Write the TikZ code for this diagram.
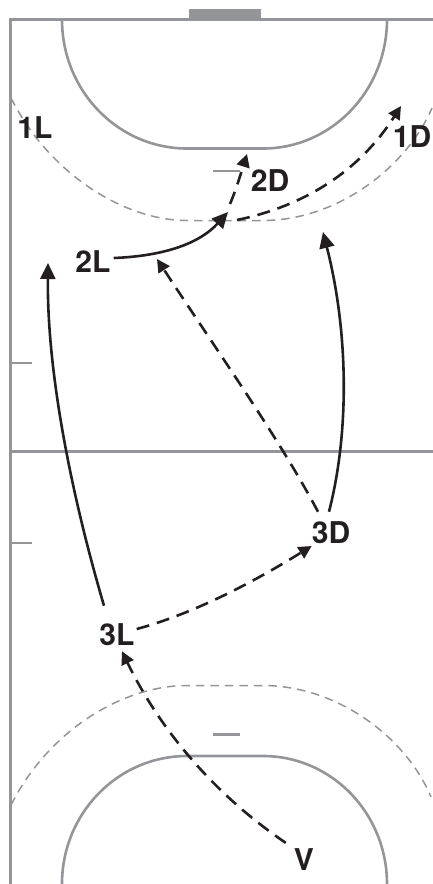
\documentclass[tikz,border=0pt]{standalone}
\usepackage{fontspec}
\setmainfont{TeX Gyre Heros}
\usetikzlibrary{arrows.meta,calc}
\definecolor{court}{HTML}{949599}
\definecolor{ink}{HTML}{231F20}
\tikzset{
  courtline/.style={draw=court,line width=3pt},
  zoneline/.style={draw=court,line width=1.5pt,dash pattern=on 8.5pt off 6pt},
  lbl/.style={text=ink,font=\fontsize{30}{30}\bfseries\selectfont,inner sep=1pt},
  run/.style={draw=ink,line width=2.6pt,-{Triangle[length=16pt,width=15pt]}},
  pass/.style={draw=ink,line width=2.6pt,dash pattern=on 13pt off 8pt,-{Triangle[length=13pt,width=13pt]}},
}
\begin{document}
\begin{tikzpicture}[x=1pt,y=-1pt]
\useasboundingbox (0,0) rectangle (433,884);
\clip (0,0) rectangle (433,884);
% court
\fill[court] (189,9) rectangle (260.5,18.5);
\draw[courtline] (433,19.5) -- (10.5,19.5) -- (10.5,884);
\draw[courtline] (10.5,451.5) -- (433,451.5);
\draw[court,line width=2.4pt] (10.5,363) -- (32,363);
\draw[court,line width=2.4pt] (10.5,543) -- (32,543);
\draw[court,line width=2.4pt] (213,171) -- (240,171);
\draw[court,line width=2.4pt] (213,734.5) -- (240,734.5);
% 6 m lines
\draw[courtline,line width=2.6pt] (62,19.5) arc[start angle=180,end angle=270,x radius=125pt,y radius=129pt] -- (263,148.5) arc[start angle=270,end angle=360,x radius=124pt,y radius=129pt];
\draw[courtline,line width=2.6pt] (62,884) arc[start angle=180,end angle=90,x radius=125pt,y radius=128pt] -- (263,756) arc[start angle=90,end angle=0,x radius=124pt,y radius=128pt];
% 9 m lines
\draw[zoneline] (11,98) .. controls (50,175) and (125,220.5) .. (187,220.5) -- (263,220.5) .. controls (335,220.5) and (405,170) .. (432,108);
\draw[zoneline] (11,805) .. controls (50,728) and (125,685.5) .. (187,685.5) -- (263,685.5) .. controls (335,685.5) and (405,735) .. (431,797);
% players
\node[lbl] (a1L) at (35,128) {1L};
\node[lbl] (a1D) at (412,137) {1D};
\node[lbl] (a2D) at (270,181) {2D};
\node[lbl] (a2L) at (93,262) {2L};
\node[lbl] (a3D) at (331,533) {3D};
\node[lbl] (a3L) at (117,635) {3L};
\node[lbl] (aV) at (304,860) {V};
% free ends
\coordinate (t1) at (228,212);
\coordinate (t2) at (247,154);
\coordinate (t3) at (401,106);
\coordinate (t4) at (323,232);
\coordinate (t5) at (48,263);
\coordinate (t6) at (157,259);
\coordinate (b1) at (230,204);
\coordinate (b2) at (237,220);
% connectors
\draw[run] (a2L.east) ++(2,-4) .. controls (165,256) and (200,243) .. (t1);
\draw[pass] (b1) .. controls (236,190) and (241,173) .. (t2);
\draw[pass] (b2) .. controls (295,208) and (355,178) .. (t3);
\draw[run] (a3D.north) ++(-2,-9) .. controls (350,430) and (348,330) .. (t4);
\draw[run] (a3L.north) ++(-13,-17) .. controls (70,490) and (47,370) .. (t5);
\draw[pass] (a3D.north) ++(-13,-9) .. controls (280,440) and (220,355) .. (t6);
\draw[pass] (a3L.east) ++(1,-6) .. controls (200,612) and (265,575) .. ([shift={(1,13)}]a3D.west);
\draw[pass] (aV.north west) ++(-7,-5) .. controls (215,795) and (160,730) .. ([shift={(5,4)}]a3L.south);
\end{tikzpicture}
\end{document}
